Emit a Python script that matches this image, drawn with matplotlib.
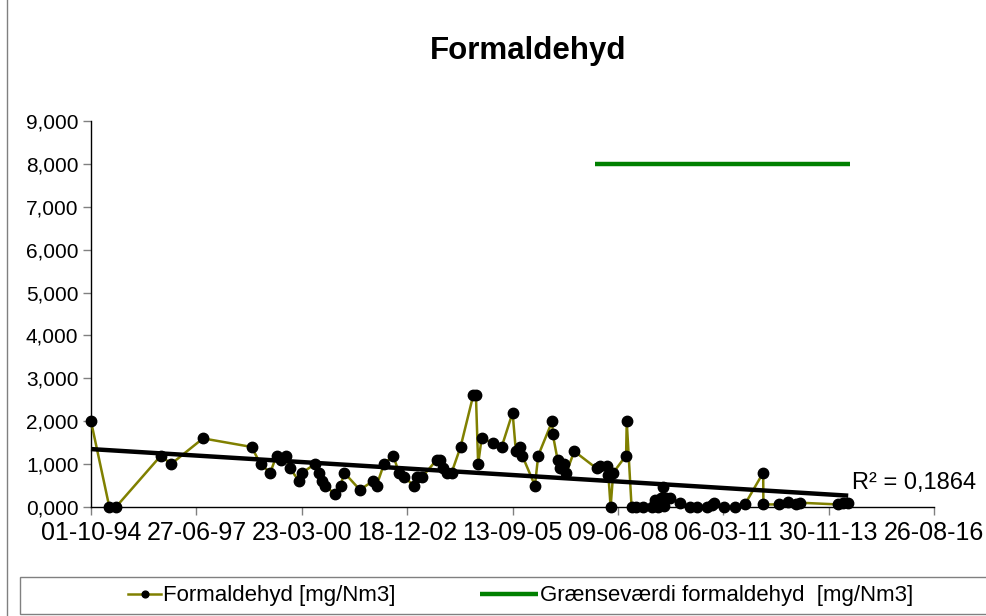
import matplotlib
matplotlib.use("Agg")
import matplotlib.pyplot as plt
import matplotlib.dates as mdates
from matplotlib.patches import Rectangle
from matplotlib.lines import Line2D
import numpy as np
import pandas as pd

plt.rcParams['font.family'] = ['Liberation Sans', 'DejaVu Sans']

# ---- data ----
dates = [
    "1994-10-01", "1995-03-24", "1995-05-26", "1996-07-26", "1996-10-29", "1997-08-29",
    "1998-12-03", "1999-02-26", "1999-05-29", "1999-07-28", "1999-09-12", "1999-10-25",
    "1999-12-02", "2000-02-28", "2000-03-27", "2000-07-26", "2000-09-02", "2000-09-27",
    "2000-10-29", "2001-02-01", "2001-03-27", "2001-04-30", "2001-09-26", "2002-01-24",
    "2002-03-03", "2002-05-12", "2002-08-08", "2002-10-01", "2002-11-20", "2003-02-20",
    "2003-03-18", "2003-05-10", "2003-09-24", "2003-10-25", "2003-11-25", "2003-12-30",
    "2004-02-13", "2004-05-08", "2004-09-05", "2004-10-01", "2004-10-22", "2004-11-24",
    "2005-03-08", "2005-06-02", "2005-09-14", "2005-10-15", "2005-11-19", "2005-12-14",
    "2006-04-14", "2006-05-15", "2006-09-25", "2006-09-30", "2006-11-15", "2006-12-07",
    "2007-01-14", "2007-02-06", "2007-04-22", "2007-11-20", "2007-12-21", "2008-02-26",
    "2008-03-11", "2008-04-01", "2008-04-26", "2008-08-26", "2008-09-01", "2008-10-17",
    "2008-11-27", "2009-02-04", "2009-04-25", "2009-05-26", "2009-06-24", "2009-07-22",
    "2009-08-13", "2009-08-20", "2009-09-08", "2009-10-16", "2010-01-19", "2010-04-24",
    "2010-06-26", "2010-09-29", "2010-11-15", "2010-12-10", "2011-03-15", "2011-06-25",
    "2011-09-27", "2012-03-19", "2012-03-21", "2012-08-18", "2012-11-11", "2013-01-23",
    "2013-03-02", "2014-02-23", "2014-04-17", "2014-06-04",
]
formaldehyd = [
    2.0, 0.0, 0.0, 1.2, 1.0, 1.6,
    1.4, 1.0, 0.8, 1.2, 1.1, 1.2,
    0.9, 0.6, 0.8, 1.0, 0.8, 0.6,
    0.5, 0.3, 0.5, 0.8, 0.4, 0.6,
    0.5, 1.0, 1.2, 0.8, 0.7, 0.5,
    0.7, 0.7, 1.1, 1.1, 0.9, 0.8,
    0.8, 1.4, 2.6, 2.6, 1.0, 1.6,
    1.5, 1.4, 2.2, 1.3, 1.4, 1.2,
    0.5, 1.2, 2.0, 1.7, 1.1, 0.9,
    1.0, 0.8, 1.3, 0.9, 0.95, 0.95,
    0.75, 0.0, 0.8, 1.2, 2.0, 0.0,
    0.0, 0.0, 0.0, 0.16, 0.0, 0.2,
    0.47, 0.02, 0.22, 0.22, 0.09, 0.0,
    0.0, 0.0, 0.04, 0.1, 0.0, 0.0,
    0.06, 0.8, 0.06, 0.06, 0.12, 0.06,
    0.1, 0.06, 0.1, 0.1,
]
limit_dates = ["2007-11-04", "2014-06-20"]
limit_values = [8.0, 8.0]
r2_text = "R² = 0,1864"
x_start = "1994-10-01"
x_step_days = 1000
n_xticks = 9
y_ticks = [0, 1, 2, 3, 4, 5, 6, 7, 8, 9]

series_label = "Formaldehyd [mg/Nm3]"
limit_label = "Grænseværdi formaldehyd  [mg/Nm3]"
title = "Formaldehyd"

# ---- figure ----
W, H = 986, 616
fig = plt.figure(figsize=(W / 100, H / 100), dpi=100)
L, R, T, B = 91, 934, 121, 507
ax = fig.add_axes([L / W, 1 - B / H, (R - L) / W, (B - T) / H])

d = pd.to_datetime(dates)
dn = mdates.date2num(d)
line_f, = ax.plot(dn, formaldehyd, color="#808000", lw=1.8, marker="o",
                  markersize=7.5, markerfacecolor="black", markeredgecolor="black",
                  zorder=3, clip_on=False)

# linear trend
coef = np.polyfit(dn, formaldehyd, 1)
tx = np.array([dn.min(), dn.max()])
ax.plot(tx, np.polyval(coef, tx), color="black", lw=3.2, zorder=4,
        solid_capstyle="butt", clip_on=False)

ld = mdates.date2num(pd.to_datetime(limit_dates))
line_g, = ax.plot(ld, limit_values, color="#008000", lw=3.2, zorder=3,
                  solid_capstyle="butt")

x0 = mdates.date2num(pd.Timestamp(x_start))
xt = [x0 + k * x_step_days for k in range(n_xticks)]
ax.set_xlim(xt[0], xt[-1])
ax.set_xticks(xt)
ax.set_xticklabels([mdates.num2date(v).strftime("%d-%m-%y") for v in xt])
ax.set_ylim(y_ticks[0], y_ticks[-1])
ax.set_yticks(y_ticks)
ax.set_yticklabels([f"{v:.3f}".replace(".", ",") for v in y_ticks])

for s in ["top", "right"]:
    ax.spines[s].set_visible(False)
for s in ["left", "bottom"]:
    ax.spines[s].set_linewidth(1.0)
    ax.spines[s].set_color("black")
ax.tick_params(axis="both", direction="out", length=6, width=1, color="#808080",
               labelcolor="black")
ax.tick_params(axis="x", pad=4, labelsize=18)
ax.tick_params(axis="y", pad=3, labelsize=15)

# R2 label (position given in axes fraction)
ax.text((852 - L) / (R - L), (B - 483) / (B - T), r2_text, transform=ax.transAxes,
        fontsize=17, ha="left", va="center")

fig.text(528 / W, 1 - 51 / H, title, ha="center", va="center",
         fontsize=22.5, fontweight="bold")

# outer frame line on the left
fig.add_artist(Line2D([7 / W, 7 / W], [0, 1], transform=fig.transFigure,
                      color="#808080", lw=1))
# legend box
fig.add_artist(Rectangle((20 / W, 1 - 614 / H), (990 - 20) / W, (614 - 577) / H,
                         transform=fig.transFigure, facecolor="white",
                         edgecolor="#808080", lw=1))
leg_font = {"size": 16}
leg1 = fig.legend([line_f], [series_label], loc="center left",
                  bbox_to_anchor=(128 / W, 1 - 596 / H), frameon=False,
                  prop=leg_font, handlelength=1.5, handletextpad=0.08,
                  borderpad=0, borderaxespad=0, markerscale=0.65)
leg2 = fig.legend([line_g], [limit_label], loc="center left",
                  bbox_to_anchor=(480 / W, 1 - 596 / H), frameon=False,
                  prop=leg_font, handlelength=2.6, handletextpad=0.08,
                  borderpad=0, borderaxespad=0)

fig.savefig("out.png", dpi=100)
